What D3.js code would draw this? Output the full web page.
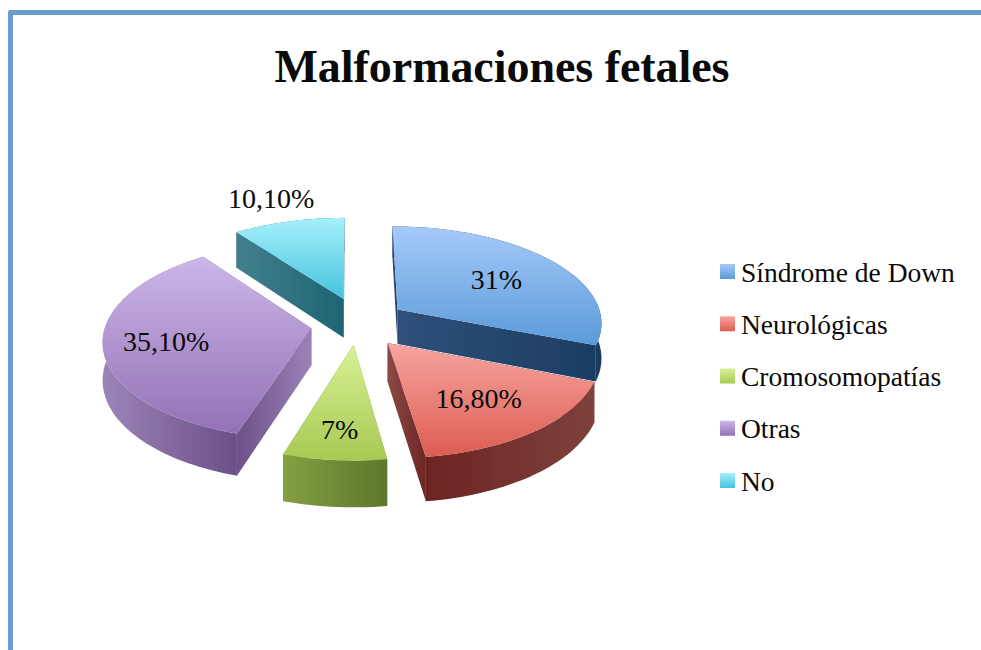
<!DOCTYPE html>
<html>
<head>
<meta charset="utf-8">
<script src="https://cdnjs.cloudflare.com/ajax/libs/d3/7.8.5/d3.min.js"></script>
<style>
html, body { margin: 0; padding: 0; background: #fff; overflow: hidden; }
text { font-family: "Liberation Serif", serif; fill: #0a0a0a; }
</style>
</head>
<body>
<div id="chart"></div>
<script>
var categories = ["Síndrome de Down", "Neurológicas", "Cromosomopatías", "Otras", "No"];
var values = [31, 16.8, 7, 35.1, 10.1];
var valueLabels = ["31%", "16,80%", "7%", "35,10%", "10,10%"];

// how far each slice is pulled out of the pie, in radii
var explode = [0.27, 0.27, 0.22, 0.21, 0.26];
// small extra shift of each slice after the pull, in radii
var nudgeX = [0.012, 0.012, 0.035, 0.02, 0.05];
var nudgeY = [0.02, 0, 0.01, 0.03, 0];
// thickness of each slice, px
var depths = [35, 38, 40, 37, 40];
// where the value label sits along the slice middle, in radii
var labelRadius = [0.63, 0.64, 0.75, 0.7, 1.36];

var topColors = [["#a6caf9", "#5a9ad9"], ["#f7a5a0", "#dc5c51"], ["#d8f196", "#a8c953"], ["#cbb7e8", "#9470b4"], ["#a6f0fb", "#44c3de"]];
var rimColors = [["#2f5078", "#1c3d63"], ["#6d2421", "#7d423c"], ["#84a042", "#5f762d"], ["#9c85b8", "#6a4f88"], ["#44808e", "#1d6473"]];
var cutColors = [["#2f5078", "#1c3d63"], ["#8a4a45", "#6e2623"], ["#84a042", "#5f762d"], ["#6d5189", "#9a82b6"], ["#44808e", "#1d6473"]];

var width = 981, height = 650;
var cx = 350, cy = 322, R = 205, Ry = 96, k = 0.12;

var svg = d3.select("#chart").append("svg")
    .attr("width", width)
    .attr("height", height);

var defs = svg.append("defs");
defs.append("filter").attr("id", "soft")
    .append("feGaussianBlur").attr("stdDeviation", 0.7);

function add_gradient(id, pair, horizontal) {
    var g = defs.append("linearGradient").attr("id", id)
	.attr("x1", 0).attr("y1", 0)
	.attr("x2", horizontal ? 1 : 0).attr("y2", horizontal ? 0 : 1);
    g.append("stop").attr("offset", 0).attr("stop-color", pair[0]);
    g.append("stop").attr("offset", 1).attr("stop-color", pair[1]);
}
categories.forEach(function(c, i) {
    add_gradient("top" + i, topColors[i], false);
    add_gradient("rim" + i, rimColors[i], true);
    add_gradient("cut" + i, cutColors[i], true);
});

// Frame
svg.append("path")
    .attr("d", "M10.5," + height + "V12.5H" + width)
    .attr("fill", "none")
    .attr("stroke", "#6a9bcf")
    .attr("stroke-width", 5)
    .attr("stroke-linejoin", "round");

// Title
svg.append("text")
    .attr("x", 502).attr("y", 82)
    .attr("text-anchor", "middle")
    .attr("font-size", 46)
    .attr("font-weight", "bold")
    .attr("textLength", 455)
    .attr("lengthAdjust", "spacing")
    .text("Malformaciones fetales");

// Perspective projection: X,Y are in radii, h is the drop below the top face in px
function project(p, h) {
    var s = 1 / (1 - k * p[1]);
    return [cx + R * p[0] * s, cy + Ry * p[1] * s + h * s];
}
function polar(a, r) {
    return [r * Math.sin(a), -r * Math.cos(a)];
}
function shift(p, o) {
    return [p[0] + o[0], p[1] + o[1]];
}

var line = d3.line();
var pie = d3.pie().sort(null).value(function(d) { return d; });
var slices = pie(values).map(function(d, i) {
    var mid = (d.startAngle + d.endAngle) / 2;
    var apex = shift(polar(mid, explode[i]), [nudgeX[i], nudgeY[i]]);
    var n = Math.ceil((d.endAngle - d.startAngle) / 0.03);
    var rim = d3.range(n + 1).map(function(j) {
	return shift(apex, polar(d.startAngle + (d.endAngle - d.startAngle) * j / n, 1));
    });
    return {i: i, mid: mid, apex: apex, rim: rim, order: apex[1] - Math.cos(mid) * 0.5};
});

var body = svg.append("g").attr("filter", "url(#soft)");

function quad(a, b, h) {
    return [project(a, 0), project(b, 0), project(b, h), project(a, h)];
}
function wall(points, fill) {
    body.append("path")
	.attr("d", line(points) + "Z")
	.attr("fill", fill);
}

slices.slice().sort(function(a, b) { return a.order - b.order; }).forEach(function(s) {
    var h = depths[s.i];
    // radial cut faces
    wall(quad(s.apex, s.rim[0], h), "url(#cut" + s.i + ")");
    wall(quad(s.apex, s.rim[s.rim.length - 1], h), "url(#cut" + s.i + ")");
    // outer face
    var outer = s.rim.map(function(p) { return project(p, 0); })
	.concat(s.rim.slice().reverse().map(function(p) { return project(p, h); }));
    wall(outer, "url(#rim" + s.i + ")");
    // top face
    var face = [project(s.apex, 0)].concat(s.rim.map(function(p) { return project(p, 0); }));
    wall(face, "url(#top" + s.i + ")");
});

// Value labels
svg.selectAll(".value-label")
    .data(slices)
    .enter().append("text")
    .attr("class", "value-label")
    .attr("text-anchor", "middle")
    .attr("font-size", 28)
    .attr("x", function(s) { return project(shift(s.apex, polar(s.mid, labelRadius[s.i])), 0)[0]; })
    .attr("y", function(s) { return project(shift(s.apex, polar(s.mid, labelRadius[s.i])), 0)[1] + 11; })
    .text(function(s) { return valueLabels[s.i]; });

// Legend
var legendY = d3.scalePoint().domain(categories).range([271.5, 480.5]);
var legend = svg.selectAll(".legend")
    .data(categories)
    .enter().append("g")
    .attr("class", "legend")
    .attr("transform", function(d) { return "translate(720," + legendY(d) + ")"; });
legend.append("rect")
    .attr("y", -7.5)
    .attr("width", 15).attr("height", 15)
    .attr("fill", function(d, i) { return "url(#top" + i + ")"; });
legend.append("text")
    .attr("x", 21).attr("y", 10)
    .attr("font-size", 27.5)
    .text(function(d) { return d; });
</script>
</body>
</html>
